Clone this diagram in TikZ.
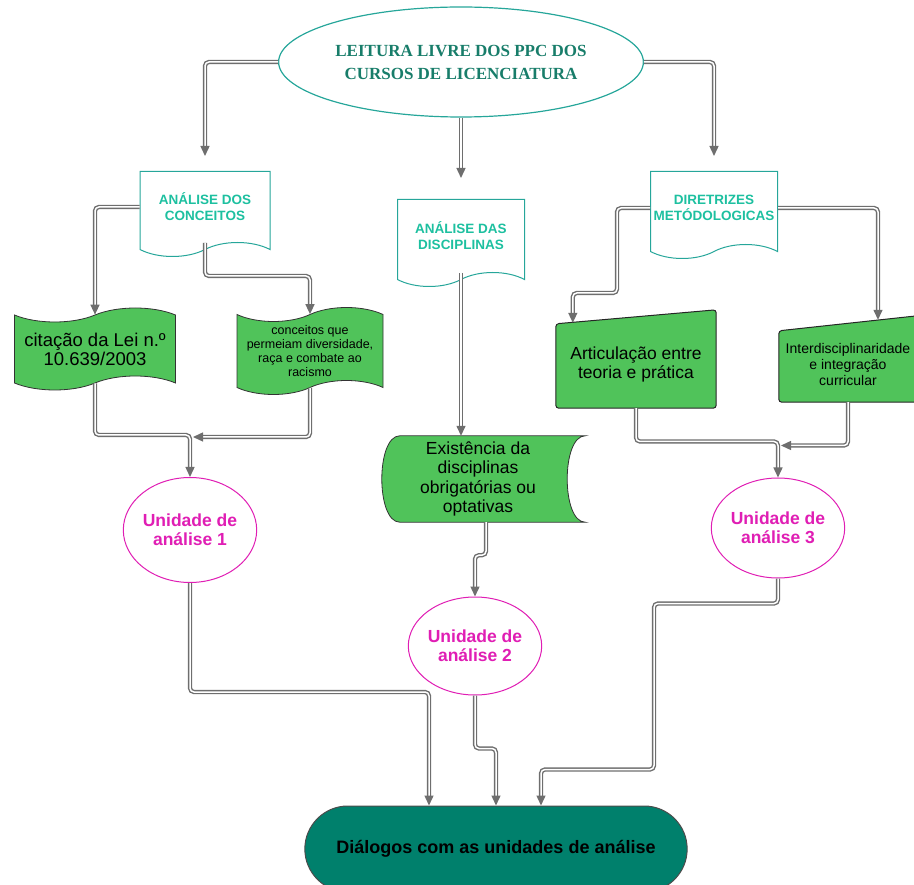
\documentclass[tikz,border=0pt]{standalone}
\usepackage{fontspec}
\setmainfont{Liberation Sans}
\newfontfamily\titlefont{Liberation Serif}
\usetikzlibrary{shapes.geometric,shapes.symbols,shapes.misc,arrows.meta,backgrounds}

\definecolor{linegray}{HTML}{6E6E6E}
\definecolor{docteal}{HTML}{26A69A}
\definecolor{doctext}{HTML}{1DC0A0}
\definecolor{titletext}{HTML}{187D6A}
\definecolor{leaf}{HTML}{50C35A}
\definecolor{unitpink}{HTML}{E01EB4}
\definecolor{endteal}{HTML}{00806C}

\begin{document}
\begin{tikzpicture}[
    x=1pt, y=-1pt,
    >={Triangle[length=10pt,width=9pt]},
    conn/.style={->, draw=linegray, line width=1.4pt, double=white, double distance=1.5pt, rounded corners=4pt},
    doc/.style={tape, tape bend top=none, tape bend bottom=in and out, tape bend height=14pt,
        draw=docteal, line width=1pt, fill=white, minimum width=130pt, minimum height=85pt,
        text=doctext, font=\fontsize{13.5}{16}\selectfont\bfseries, align=center, inner sep=0pt},
    flag/.style={tape, tape bend height=14pt, draw=black!80, line width=0.8pt, fill=leaf,
        align=center, inner sep=0pt},
    greenbox/.style={draw=none, align=center, inner sep=0pt},
    unit/.style={ellipse, draw=unitpink, line width=1pt, fill=white, text=unitpink,
        font=\fontsize{17.5}{19}\selectfont\bfseries, align=center, inner sep=0pt}
]
\useasboundingbox (0,0) rectangle (914,885);

% topo
\node[ellipse, draw=docteal, line width=1.2pt, minimum width=355pt, minimum height=110pt,
      text=titletext, font=\titlefont\fontsize{17}{23}\selectfont\bfseries, align=center]
      (leitura) at (461,62) {LEITURA LIVRE DOS PPC DOS\\CURSOS DE LICENCIATURA};

% documentos
\node[doc] (conceitos) at (205,207) {ANÁLISE DOS\\CONCEITOS};
\node[doc, minimum width=127pt, minimum height=87pt] (disciplinas) at (461,236) {ANÁLISE DAS\\DISCIPLINAS};
\node[doc, minimum width=127pt, minimum height=87pt] (diretrizes) at (714,208) {DIRETRIZES\\METÓDOLOGICAS};

% bandeiras
\node[flag, minimum width=161pt, minimum height=82pt, font=\fontsize{18.5}{19}\selectfont]
      (lei) at (95,349) {citação da Lei n.º\\10.639/2003};
\node[flag, minimum width=146pt, minimum height=87pt, font=\fontsize{12.5}{14}\selectfont]
      (raca) at (310,351) {conceitos que\\permeiam diversidade,\\raça e combate ao\\racismo};

% caixas verdes
\node[greenbox, minimum width=186pt, minimum height=86pt, font=\fontsize{17.5}{19.5}\selectfont]
      (existencia) at (478,479) {Existência da\\disciplinas\\obrigatórias ou\\optativas};
\node[greenbox, minimum width=160pt, minimum height=88pt, font=\fontsize{17.5}{19}\selectfont]
      (articulacao) at (636,364) {Articulação entre\\teoria e prática};
\node[greenbox, minimum width=138pt, minimum height=76pt, font=\fontsize{14}{16}\selectfont]
      (interdisc) at (848,364) {Interdisciplinaridade\\e integração\\curricular};

\begin{scope}[on background layer]
\draw[draw=black!80, line width=0.8pt, fill=leaf]
    ([xshift=15pt]existencia.north west) .. controls ([xshift=-9pt]existencia.north west)
    and ([xshift=-9pt]existencia.south west) .. ([xshift=15pt]existencia.south west)
    -- ([xshift=14pt]existencia.south east) .. controls ([xshift=-10pt]existencia.south east)
    and ([xshift=-10pt]existencia.north east) .. ([xshift=14pt]existencia.north east) -- cycle;
\draw[draw=black!85, line width=1pt, fill=leaf, rounded corners=3pt]
    ([yshift=-4pt]articulacao.north west) -- ([yshift=10pt]articulacao.north east)
    -- (articulacao.south east) -- (articulacao.south west) -- cycle;
\draw[draw=black!85, line width=1pt, fill=leaf, rounded corners=3pt]
    ([yshift=-5pt]interdisc.north west) -- ([yshift=10pt]interdisc.north east)
    -- (interdisc.south east) -- (interdisc.south west) -- cycle;
\end{scope}

% unidades
\node[unit, minimum width=130pt, minimum height=105pt] (un1) at (190,530) {Unidade de\\análise 1};
\node[unit, minimum width=126pt, minimum height=98pt] (un2) at (475,646) {Unidade de\\análise 2};
\node[unit, minimum width=128pt, minimum height=100pt] (un3) at (778,528) {Unidade de\\análise 3};

\node[rounded rectangle, draw=black!70, line width=1pt, fill=endteal,
      minimum width=389pt, minimum height=86pt, font=\fontsize{18}{20}\selectfont\bfseries]
      (dialogos) at (496,849) {Diálogos com as unidades de análise};

% ligacoes
\draw[conn] (leitura.west) -| ([yshift=15pt]conceitos.north);
\draw[conn] (leitura.south) -- ([yshift=21pt]disciplinas.north);
\draw[conn] (leitura.east) -| ([yshift=15pt]diretrizes.north);

\draw[conn] (conceitos.west) -| (lei.north);
\draw[conn] (conceitos.south) -- ++(0,33) -| (raca.north);
\draw[conn] (lei.south) |- ([yshift=42pt]un1.north) -- (un1.north);
\draw[conn] (raca.south) |- ([xshift=3pt,yshift=40pt]un1.north);

\draw[conn] (disciplinas.south) -- (disciplinas.south |- existencia.north);
\draw[conn] ([xshift=8pt]existencia.south) -- ++(0,33) -| (un2.north);

\draw[conn] (diretrizes.west) -- ++(-33,0) -- ++(0,85) -| ([xshift=17pt,yshift=-3pt]articulacao.north west);
\draw[conn] (diretrizes.east) -| ([xshift=30pt,yshift=6pt]interdisc.north);
\draw[conn] (articulacao.south) |- ([yshift=36pt]un3.north) -- (un3.north);
\draw[conn] (interdisc.south) |- ([xshift=3pt,yshift=32pt]un3.north);

\draw[conn] (un1.south) -- ++(0,109) -| ([xshift=-67pt]dialogos.north);
\draw[conn] (un2.south) -- ++(0,53) -| (dialogos.north);
\draw[conn] (un3.south) -- ++(0,25) -| ++(-124,166) -| ([xshift=45pt]dialogos.north);
\end{tikzpicture}
\end{document}
